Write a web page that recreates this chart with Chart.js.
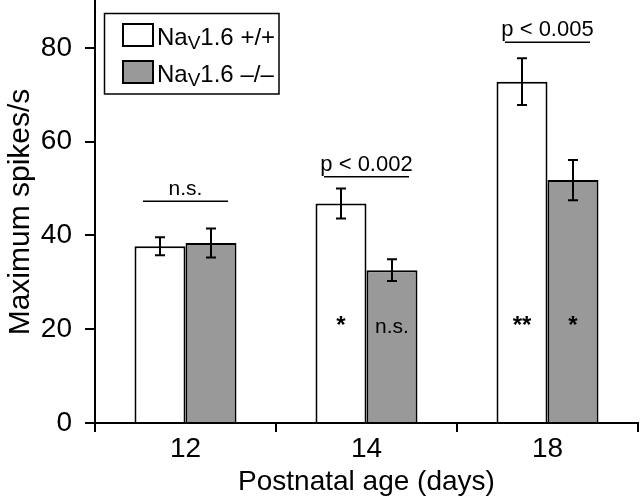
<!DOCTYPE html>
<html><head><meta charset="utf-8">
<script src="https://cdn.jsdelivr.net/npm/chart.js@4"></script>
<style>html,body{margin:0;padding:0;background:#fff}#wrap{width:640px;height:499px}</style>
</head><body><div id="wrap"><canvas id="c" width="640" height="499"></canvas></div>
<script>
const categories = ['12', '14', '18'];
const wildType = [37.7, 46.8, 72.8];
const wildTypeErr = [1.9, 3.2, 5.0];
const knockout = [38.4, 32.6, 51.8];
const knockoutErr = [3.1, 2.3, 4.3];
const seriesNames = ['Nav1.6 +/+', 'Nav1.6 \u2013/\u2013'];
const seriesNameParts = [['Na', 'V', '1.6 +/+'], ['Na', 'V', '1.6 \u2013/\u2013']];
const pairLabels = ['n.s.', 'p < 0.002', 'p < 0.005'];
const pairLineValues = [47.3, 52.5, 81.2];
const wildTypeMarks = ['', '*', '**'];
const knockoutMarks = ['', 'n.s.', '*'];
const markValue = 19.2;
const yTicks = [0, 20, 40, 60, 80];

const FONT = '"Liberation Sans", Arial, sans-serif';
const GRAY = '#999999';

const annot = {
  id: 'annot',
  afterDatasetsDraw(chart) {
    const ctx = chart.ctx, y = chart.scales.y;
    const errs = [wildTypeErr, knockoutErr];
    const marks = [wildTypeMarks, knockoutMarks];
    ctx.save();
    ctx.strokeStyle = '#000'; ctx.lineWidth = 2; ctx.fillStyle = '#000';
    chart.data.datasets.forEach((ds, di) => {
      chart.getDatasetMeta(di).data.forEach((bar, i) => {
        const v = ds.data[i], e = errs[di][i];
        const yt = y.getPixelForValue(v + e), yb = y.getPixelForValue(v - e);
        ctx.beginPath();
        ctx.moveTo(bar.x, yt); ctx.lineTo(bar.x, yb);
        ctx.moveTo(bar.x - 5, yt); ctx.lineTo(bar.x + 5, yt);
        ctx.moveTo(bar.x - 5, yb); ctx.lineTo(bar.x + 5, yb);
        ctx.stroke();
        const m = marks[di][i];
        if (m) {
          ctx.textAlign = 'center'; ctx.textBaseline = 'alphabetic';
          ctx.font = m.indexOf('*') >= 0 ? 'bold 24px ' + FONT : '21px ' + FONT;
          ctx.fillText(m, bar.x, y.getPixelForValue(markValue));
        }
      });
    });
    const m0 = chart.getDatasetMeta(0).data, m1 = chart.getDatasetMeta(1).data;
    ctx.lineWidth = 1.5;
    pairLabels.forEach((lab, i) => {
      const yl = y.getPixelForValue(pairLineValues[i]);
      const x0 = m0[i].x - 17, x1 = m1[i].x + 17;
      ctx.beginPath(); ctx.moveTo(x0, yl); ctx.lineTo(x1, yl); ctx.stroke();
      ctx.font = (i === 0 ? '21px ' : '22px ') + FONT; ctx.textAlign = 'center'; ctx.textBaseline = 'alphabetic';
      ctx.fillText(lab, (x0 + x1) / 2, yl - 6);
    });
    ctx.restore();
  },
  afterDraw(chart) {
    const ctx = chart.ctx;
    ctx.save();
    ctx.strokeStyle = '#000'; ctx.lineWidth = 1.5;
    ctx.strokeRect(104.5, 13.5, 174.5, 80.5);
    const fills = ['#ffffff', GRAY];
    const tops = [24, 61];
    const bases = [44.5, 81.5];
    seriesNameParts.forEach((parts, k) => {
      ctx.fillStyle = fills[k];
      ctx.fillRect(123, tops[k], 30, 22);
      ctx.lineWidth = 2; ctx.strokeStyle = '#000';
      ctx.strokeRect(123, tops[k], 30, 22);
      ctx.fillStyle = '#000'; ctx.textAlign = 'left'; ctx.textBaseline = 'alphabetic';
      let x = 157;
      ctx.font = '24px ' + FONT; ctx.fillText(parts[0], x, bases[k]); x += ctx.measureText(parts[0]).width;
      ctx.font = '19px ' + FONT; ctx.fillText(parts[1], x, bases[k] + 4); x += ctx.measureText(parts[1]).width;
      ctx.font = '24px ' + FONT; ctx.fillText(parts[2], x, bases[k]);
    });
    ctx.restore();
  }
};

new Chart(document.getElementById('c'), {
  type: 'bar',
  data: {
    labels: categories,
    datasets: [
      { label: seriesNames[0], data: wildType, backgroundColor: '#ffffff', borderColor: '#000', borderWidth: 2, borderSkipped: 'start' },
      { label: seriesNames[1], data: knockout, backgroundColor: GRAY, borderColor: '#000', borderWidth: 2, borderSkipped: 'start' }
    ]
  },
  options: {
    responsive: false, animation: false, devicePixelRatio: 1,
    layout: { padding: { top: 1, right: 2, left: 0, bottom: 0 } },
    plugins: { legend: { display: false }, tooltip: { enabled: false } },
    datasets: { bar: { categoryPercentage: 0.5635, barPercentage: 1 } },
    scales: {
      x: {
        grid: { offset: true, drawOnChartArea: false, tickLength: 9, color: '#000', lineWidth: 2 },
        border: { color: '#000', width: 2 },
        ticks: { color: '#000', font: { family: FONT, size: 28, lineHeight: 1 }, padding: 3 },
        title: { display: true, text: 'Postnatal age (days)', color: '#000', font: { family: FONT, size: 28, lineHeight: 1 }, padding: { top: 2, bottom: 3 } }
      },
      y: {
        min: 0, max: 90,
        afterBuildTicks(a) { a.ticks = yTicks.map(v => ({ value: v })); },
        afterFit(a) { a.paddingTop = 0; a.paddingBottom = 0; a.width = 95; },
        grid: { drawOnChartArea: false, tickLength: 10, color: '#000', lineWidth: 2 },
        border: { color: '#000', width: 2 },
        ticks: { color: '#000', font: { family: FONT, size: 28 }, padding: 13 },
        title: { display: true, text: 'Maximum spikes/s', color: '#000', font: { family: FONT, size: 30 }, padding: { top: 3, bottom: 0 } }
      }
    }
  },
  plugins: [annot]
});
</script></body></html>
